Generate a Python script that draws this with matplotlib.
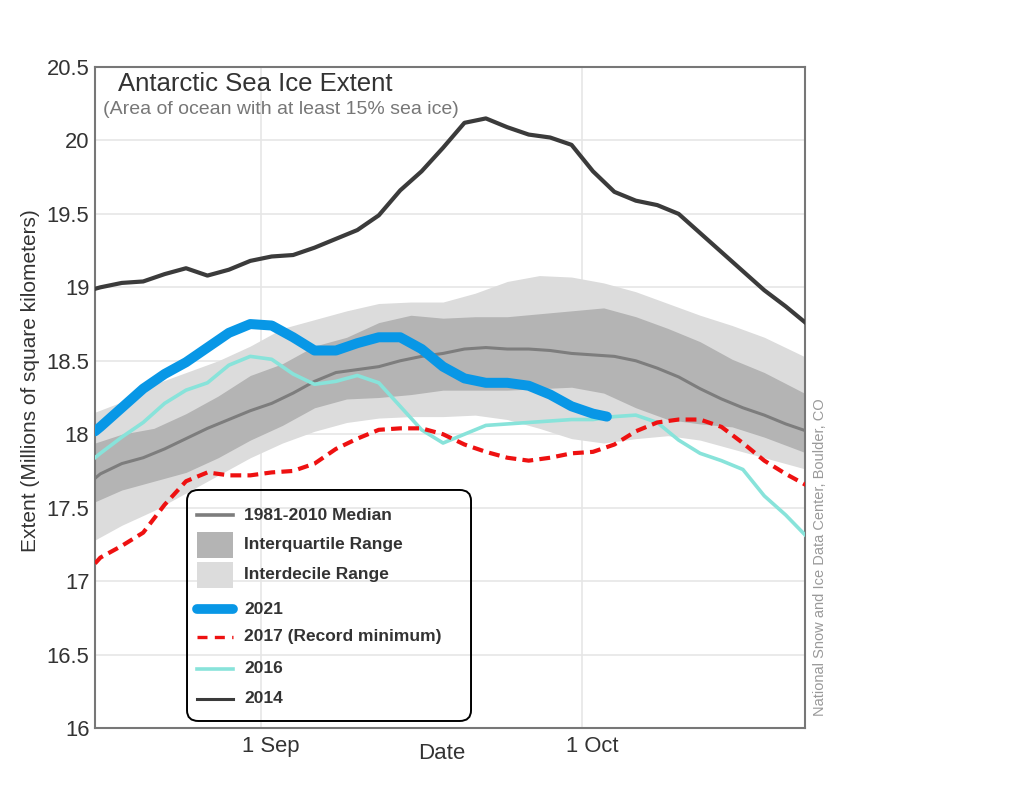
import matplotlib
matplotlib.use("Agg")
import matplotlib.pyplot as plt
import matplotlib.patches as mpatches
from matplotlib.lines import Line2D
from matplotlib.transforms import ScaledTranslation

plt.rcParams['font.family'] = ['Liberation Sans', 'DejaVu Sans']

# ── Data (days relative to 1 Sep, extent in millions of km²) ────────────────
line_days = [-15.5, -15, -13, -11, -9, -7, -5, -3, -1, 1, 3, 5, 7, 9, 11, 13, 15,
             17, 19, 21, 23, 25, 27, 29, 31, 33, 35, 37, 39, 41, 43, 45, 47, 49, 51]

ext_2014 = [18.99, 19.00, 19.03, 19.04, 19.09, 19.13, 19.08, 19.12, 19.18, 19.21,
            19.22, 19.27, 19.33, 19.39, 19.49, 19.66, 19.79, 19.95, 20.12, 20.15,
            20.09, 20.04, 20.02, 19.97, 19.79, 19.65, 19.59, 19.56, 19.50, 19.37,
            19.24, 19.11, 18.98, 18.87, 18.75]

ext_2016 = [17.84, 17.87, 17.98, 18.08, 18.21, 18.30, 18.35, 18.47, 18.53, 18.51,
            18.41, 18.34, 18.36, 18.40, 18.35, 18.19, 18.03, 17.94, 18.00, 18.06,
            18.07, 18.08, 18.09, 18.10, 18.10, 18.12, 18.13, 18.08, 17.96, 17.87,
            17.82, 17.76, 17.58, 17.45, 17.30]

ext_2017 = [17.12, 17.16, 17.24, 17.33, 17.52, 17.68, 17.74, 17.72, 17.72, 17.74,
            17.75, 17.80, 17.90, 17.97, 18.03, 18.04, 18.04, 18.00, 17.93, 17.88,
            17.84, 17.82, 17.84, 17.87, 17.88, 17.93, 18.02, 18.08, 18.10, 18.10,
            18.05, 17.94, 17.82, 17.73, 17.65]

median = [17.70, 17.73, 17.80, 17.84, 17.90, 17.97, 18.04, 18.10, 18.16, 18.21,
          18.28, 18.36, 18.42, 18.44, 18.46, 18.50, 18.53, 18.55, 18.58, 18.59,
          18.58, 18.58, 18.57, 18.55, 18.54, 18.53, 18.50, 18.45, 18.39, 18.31,
          18.24, 18.18, 18.13, 18.07, 18.02]

days_2021 = [-15.5, -15, -13, -11, -9, -7, -5, -3, -1, 1, 3, 5, 7, 9, 11, 13, 15,
             17, 19, 21, 23, 25, 27, 29, 31, 32.3]
ext_2021 = [18.02, 18.05, 18.18, 18.31, 18.41, 18.49, 18.59, 18.69, 18.75, 18.74,
            18.66, 18.57, 18.57, 18.62, 18.66, 18.66, 18.58, 18.46, 18.38, 18.35,
            18.35, 18.33, 18.27, 18.19, 18.14, 18.12]

band_days = [-15.5, -13, -10, -7, -4, -1, 2, 5, 8, 11, 14, 17, 20, 23, 26, 29, 32,
             35, 38, 41, 44, 47, 51]
p90 = [18.15, 18.22, 18.34, 18.42, 18.50, 18.60, 18.72, 18.78, 18.84, 18.89, 18.90,
       18.90, 18.96, 19.04, 19.08, 19.07, 19.03, 18.97, 18.89, 18.81, 18.74, 18.66, 18.52]
p75 = [17.94, 18.00, 18.04, 18.14, 18.26, 18.40, 18.48, 18.60, 18.66, 18.76, 18.81,
       18.79, 18.80, 18.80, 18.82, 18.84, 18.86, 18.80, 18.72, 18.63, 18.51, 18.42, 18.27]
p25 = [17.54, 17.62, 17.68, 17.74, 17.84, 17.96, 18.06, 18.18, 18.24, 18.25, 18.27,
       18.30, 18.30, 18.30, 18.31, 18.32, 18.28, 18.18, 18.10, 18.07, 18.05, 17.98, 17.87]
p10 = [17.28, 17.38, 17.48, 17.60, 17.72, 17.84, 17.94, 18.02, 18.08, 18.11, 18.12,
       18.12, 18.13, 18.10, 18.04, 17.97, 17.94, 17.97, 17.99, 17.96, 17.90, 17.84, 17.76]

y_ticks = [16, 16.5, 17, 17.5, 18, 18.5, 19, 19.5, 20, 20.5]
x_ticks = [0, 30]
x_labels = ["1 Sep", "1 Oct"]

# ── Styles ──────────────────────────────────────────────────────────────────
C_DECILE = "#dcdcdc"
C_QUART = "#b4b4b4"
C_MEDIAN = "#7d7d7d"
C_2021 = "#0897e6"
C_2017 = "#ee1111"
C_2016 = "#88e3da"
C_2014 = "#3b3b3b"
DASH = (0, (2.6, 1.5))
TXT = "#333333"

fig = plt.figure(figsize=(10.16, 8), dpi=100)
ax = fig.add_axes([95 / 1016, 72 / 800, 710 / 1016, 661 / 800])

ax.fill_between(band_days, p10, p90, color=C_DECILE, lw=0, zorder=1)
ax.fill_between(band_days, p25, p75, color=C_QUART, lw=0, zorder=1.1)
ax.plot(line_days, median, color=C_MEDIAN, lw=2.2, zorder=2)
ax.plot(line_days, ext_2014, color=C_2014, lw=3, zorder=3, solid_joinstyle="round")
ax.plot(line_days, ext_2016, color=C_2016, lw=2.6, zorder=3, solid_joinstyle="round")
ax.plot(line_days, ext_2017, color=C_2017, lw=3, ls=DASH, zorder=4)
ax.plot(days_2021, ext_2021, color=C_2021, lw=7.2, zorder=5,
        solid_capstyle="round", solid_joinstyle="round")

ax.set_xlim(-15.5, 50.8)
ax.set_ylim(16, 20.5)
ax.set_yticks(y_ticks)
ax.set_yticklabels([f"{v:g}" for v in y_ticks])
ax.set_xticks(x_ticks)
ax.set_xticklabels(x_labels)
ax.set_axisbelow(True)
ax.grid(True, color="#e6e6e6", lw=1.2, zorder=0)
ax.tick_params(axis="both", length=0, labelsize=15.8, colors=TXT)
ax.tick_params(axis="y", pad=4)
ax.tick_params(axis="x", pad=6)
for lab in ax.get_xticklabels():
    lab.set_transform(lab.get_transform() + ScaledTranslation(0.1, 0, fig.dpi_scale_trans))
for sp in ax.spines.values():
    sp.set_color("#777777")
    sp.set_linewidth(1.5)

ax.set_ylabel("Extent (Millions of square kilometers)", fontsize=15, color=TXT)
ax.yaxis.set_label_coords(-0.077, 0.525)
ax.set_xlabel("Date", fontsize=16, color=TXT)
ax.xaxis.set_label_coords(0.489, -0.022)

ax.text(0.0324, 0.974, "Antarctic Sea Ice Extent", transform=ax.transAxes,
        fontsize=18.5, color=TXT, ha="left", va="center")
ax.text(0.0113, 0.936, "(Area of ocean with at least 15% sea ice)", transform=ax.transAxes,
        fontsize=14, color="#777777", ha="left", va="center")
ax.text(1.021, 0.259, "National Snow and Ice Data Center, Boulder, CO", transform=ax.transAxes,
        fontsize=10.5, color="#999999", rotation=90, ha="center", va="center")

# ── Legend (drawn by hand to match the boxed layout) ───────────────────────
ax.add_patch(mpatches.FancyBboxPatch(
    (0.1296, 0.0106), 0.40, 0.3495, boxstyle="round,pad=0,rounding_size=0.016",
    transform=ax.transAxes, facecolor="none", edgecolor="black", lw=1.4,
    zorder=10, clip_on=False))

hx0, hx1, tx = 0.1437, 0.1944, 0.2099
rows = [0.3222, 0.2769, 0.2315, 0.1800, 0.1377, 0.0893, 0.0439]
entries = [
    ("1981-2010 Median", "line", dict(color=C_MEDIAN, lw=2.6)),
    ("Interquartile Range", "patch", dict(color=C_QUART)),
    ("Interdecile Range", "patch", dict(color=C_DECILE)),
    ("2021", "line", dict(color=C_2021, lw=7, solid_capstyle="round")),
    ("2017 (Record minimum)", "line", dict(color=C_2017, lw=2.4, ls=(0, (3, 2.2)))),
    ("2016", "line", dict(color=C_2016, lw=2.6)),
    ("2014", "line", dict(color=C_2014, lw=2.2)),
]
for yy, (label, kind, style) in zip(rows, entries):
    if kind == "line":
        ax.add_line(Line2D([hx0, hx1], [yy, yy], transform=ax.transAxes,
                           zorder=10, clip_on=False, **style))
    else:
        ax.add_patch(mpatches.Rectangle((hx0, yy - 0.0195), hx1 - hx0, 0.039,
                                        transform=ax.transAxes, lw=0, zorder=10,
                                        **style))
    ax.text(tx, yy, label, transform=ax.transAxes, fontsize=12.5, fontweight="bold",
            color=TXT, ha="left", va="center", zorder=11)

fig.savefig("out.png", dpi=100)
